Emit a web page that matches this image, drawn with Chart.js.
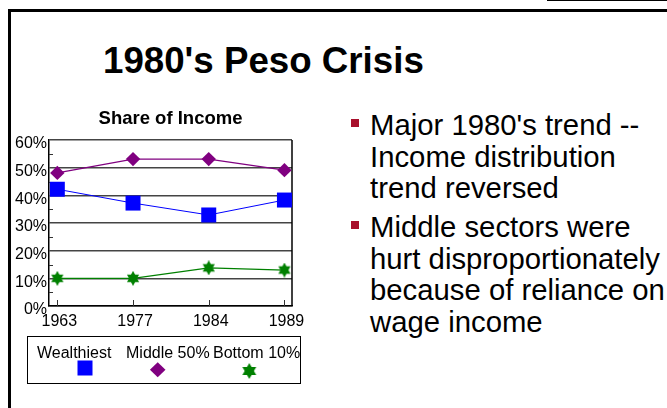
<!DOCTYPE html>
<html lang="en">
<head>
    <meta charset="UTF-8">
    <title>1980's Peso Crisis</title>
    <script src="https://cdn.jsdelivr.net/npm/chart.js@4.4.1/dist/chart.umd.min.js"></script>
    <style>
        html, body { margin: 0; padding: 0; background: #fff; }
        body { width: 667px; height: 408px; position: relative; overflow: hidden;
               font-family: "Liberation Sans", Arial, sans-serif; color: #000; }
        #chart-wrap { position: absolute; left: 0; top: 0; width: 667px; height: 408px; }
        .frame-top { position: absolute; left: 8px; top: 9px; width: 659px; height: 2.5px; background: #000; }
        .frame-left { position: absolute; left: 8px; top: 9px; width: 2.5px; height: 399px; background: #000; }
        .frame-corner { position: absolute; left: 547px; top: 0; width: 120px; height: 1px; background: #000; }
        h1 { position: absolute; left: 103px; top: 43px; margin: 0; font-size: 36.7px; line-height: 36px;
             font-weight: bold; white-space: nowrap; }
        .bullet { position: absolute; left: 370px; font-size: 29.3px; line-height: 31.5px; white-space: nowrap; }
        .bullet::before { content: ""; position: absolute; left: -19px; top: 10px; width: 8px; height: 8px;
                          background: #a8102c; }
    </style>
</head>
<body>
    <div class="frame-top"></div>
    <div class="frame-left"></div>
    <div class="frame-corner"></div>
    <h1>1980's Peso Crisis</h1>
    <div class="bullet" style="top:109px">Major 1980's trend --<br>Income distribution<br>trend reversed</div>
    <div class="bullet" style="top:211.4px">Middle sectors were<br>hurt disproportionately<br>because of reliance on<br>wage income</div>
    <div id="chart-wrap"><canvas id="chart" width="667" height="408"></canvas></div>

    <script>
// dati del grafico
var years = ["1963", "1977", "1984", "1989"];
var wealthiest = [42.2, 37.2, 32.9, 38.3];
var middle50 = [48.1, 53.1, 53.1, 49.1];
var bottom10 = [10, 10, 13.8, 13];
var seriesNames = ["Wealthiest", "Middle 50%", "Bottom 10%"];

var FONT = "'Liberation Sans', Arial, sans-serif";

// stella a sei punte per la serie Bottom 10%
function makeStar(w, h, color) {
    var c = document.createElement("canvas");
    c.width = w;
    c.height = h;
    var g = c.getContext("2d");
    var cx = w / 2, cy = h / 2, r = h / 2;
    g.fillStyle = color;
    [-Math.PI / 2, Math.PI / 2].forEach(function(start) {
        g.beginPath();
        for (var k = 0; k < 3; k++) {
            var a = start + k * 2 * Math.PI / 3;
            var px = cx + Math.cos(a) * r * (w / h);
            var py = cy + Math.sin(a) * r;
            if (k === 0) g.moveTo(px, py); else g.lineTo(px, py);
        }
        g.closePath();
        g.fill();
    });
    return c;
}
var star = makeStar(14, 15, "#008000");
var starLegend = makeStar(16, 16, "#008000");

function toPoints(arr) {
    return arr.map(function(v, i) { return { x: i, y: v }; });
}

// bordo destro, tacche interne e legenda
var slideExtras = {
    id: "slideExtras",
    beforeDatasetsDraw: function(chart) {
        var ctx = chart.ctx, a = chart.chartArea;
        var x = chart.scales.x, y = chart.scales.y;
        ctx.save();
        ctx.strokeStyle = "#000";
        ctx.lineWidth = 1.5;
        ctx.beginPath();
        ctx.moveTo(a.right, a.top);
        ctx.lineTo(a.right, a.bottom);
        ctx.stroke();
        ctx.lineWidth = 1;
        ctx.strokeStyle = "#333";
        for (var v = 5; v < 60; v += 10) {
            var py = Math.round(y.getPixelForValue(v)) + 0.5;
            ctx.beginPath();
            ctx.moveTo(a.left, py);
            ctx.lineTo(a.left + 4, py);
            ctx.stroke();
        }
        years.forEach(function(_, i) {
            var px = Math.round(x.getPixelForValue(i)) + 0.5;
            ctx.beginPath();
            ctx.moveTo(px, a.bottom);
            ctx.lineTo(px, a.bottom - 6);
            ctx.stroke();
        });
        ctx.restore();
    },
    afterDraw: function(chart) {
        var ctx = chart.ctx;
        ctx.save();
        ctx.strokeStyle = "#000";
        ctx.lineWidth = 1;
        ctx.strokeRect(27.5, 336.5, 273, 47);
        ctx.fillStyle = "#000";
        ctx.font = "16px " + FONT;
        ctx.textBaseline = "middle";
        var textX = [37, 126, 213];
        seriesNames.forEach(function(n, i) { ctx.fillText(n, textX[i], 354); });
        // marcatori
        ctx.fillStyle = "#0000ff";
        ctx.fillRect(77.5, 360.5, 15, 15);
        ctx.fillStyle = "#800080";
        ctx.beginPath();
        ctx.moveTo(157.7, 362.3);
        ctx.lineTo(165.5, 369.8);
        ctx.lineTo(157.7, 377.3);
        ctx.lineTo(149.9, 369.8);
        ctx.closePath();
        ctx.fill();
        ctx.drawImage(starLegend, 249.3 - 8, 371 - 8);
        ctx.restore();
    }
};

new Chart(document.getElementById("chart"), {
    type: "line",
    data: {
        datasets: [{
            label: seriesNames[0],
            data: toPoints(wealthiest),
            borderColor: "#0000ff",
            backgroundColor: "#0000ff",
            borderWidth: 1,
            pointStyle: "rect",
            pointRadius: 10.6,
            pointBorderWidth: 0
        }, {
            label: seriesNames[1],
            data: toPoints(middle50),
            borderColor: "#800080",
            backgroundColor: "#800080",
            borderWidth: 1.3,
            pointStyle: "rectRot",
            pointRadius: 7.2,
            pointBorderWidth: 0
        }, {
            label: seriesNames[2],
            data: toPoints(bottom10),
            borderColor: "#008000",
            backgroundColor: "#008000",
            borderWidth: 1.3,
            pointStyle: star,
            pointRadius: 7,
            pointBorderWidth: 0
        }]
    },
    options: {
        responsive: false,
        animation: false,
        layout: { padding: { left: 9, right: 375, top: 108, bottom: 72 } },
        plugins: {
            legend: { display: false },
            tooltip: { enabled: false },
            title: {
                display: true,
                text: "Share of Income",
                fullSize: false,
                color: "#000",
                font: { family: FONT, size: 18.5, weight: "bold", lineHeight: 1.2 },
                padding: { top: 0, bottom: 9.8 }
            }
        },
        scales: {
            x: {
                type: "linear",
                min: -0.11,
                max: 3.1,
                afterBuildTicks: function(s) {
                    s.ticks = years.map(function(_, i) { return { value: i }; });
                },
                afterFit: function(s) { s.height = 30; },
                grid: { display: false, drawTicks: false },
                border: { display: true, color: "#000", width: 1.5 },
                ticks: {
                    color: "#000",
                    padding: 6,
                    labelOffset: 2,
                    maxRotation: 0,
                    autoSkip: false,
                    font: { family: FONT, size: 16 },
                    callback: function(v) { return years[v]; }
                }
            },
            y: {
                min: 0,
                max: 60,
                afterFit: function(s) { s.width = 40; },
                grid: { color: "#444", lineWidth: 1.5, drawTicks: false },
                border: { display: true, color: "#000", width: 1.5 },
                ticks: {
                    stepSize: 10,
                    color: "#000",
                    padding: 2,
                    labelOffset: 4,
                    font: { family: FONT, size: 16 },
                    callback: function(v) { return v + "%"; }
                }
            }
        }
    },
    plugins: [slideExtras]
});
    </script>
</body>
</html>
